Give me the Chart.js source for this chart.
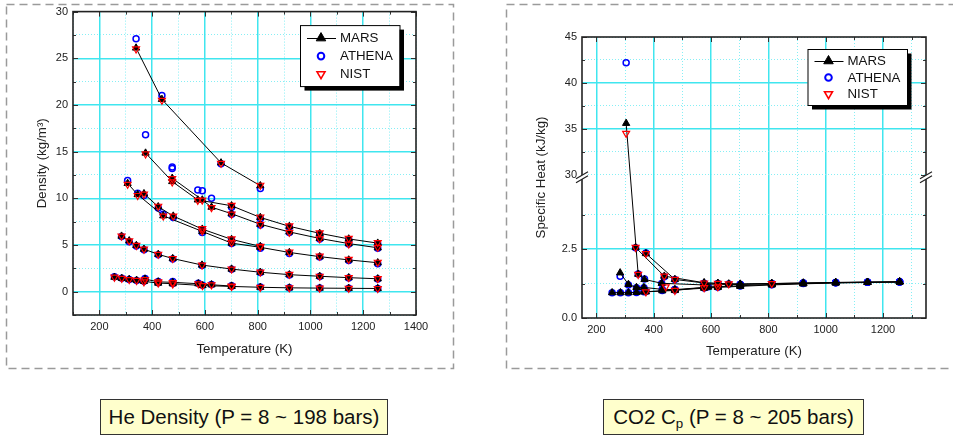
<!DOCTYPE html>
<html>
<head>
<meta charset="utf-8">
<script src="https://cdn.jsdelivr.net/npm/chart.js@4.4.0/dist/chart.umd.min.js"></script>
<style>
  body { margin: 0; background: #fff; width: 953px; height: 440px; overflow: hidden; position: relative;
         font-family: "Liberation Sans", Arial, sans-serif; }
  #heChart { position: absolute; left: 0; top: 0; }
  #co2Chart { position: absolute; left: 480px; top: 0; }
  .caption { position: absolute; top: 399px; height: 36px; box-sizing: border-box; border: 1px solid #333;
             background: #ffffcc; font-size: 20.5px; line-height: 34px; text-align: center; color: #111; }
  .caption sub { font-size: 0.65em; line-height: 0; vertical-align: -0.3em; }
</style>
</head>
<body>
<canvas id="heChart" width="480" height="380"></canvas>
<canvas id="co2Chart" width="473" height="380"></canvas>
<div class="caption" style="left:100px;width:288px">He Density (P = 8 ~ 198 bars)</div>
<div class="caption" style="left:603px;width:261px">CO2 C<sub>p</sub> (P = 8 ~ 205 bars)</div>

<script>
// ---- He density, one row per pressure line (temperature K, density kg/m3)
const heTemps = [
  [339, 437, 661, 810],
  [375, 476, 573, 701, 810, 920, 1035, 1145, 1255],
  [476, 590, 625, 701, 810, 920, 1035, 1145, 1255],
  [307, 345, 442, 590, 701, 810, 920, 1035, 1145, 1255],
  [369, 423, 480, 590, 701, 810],
  [284, 313, 340, 369, 423, 478, 589, 701, 810, 920, 1035, 1145, 1255],
  [257, 285, 313, 341, 369, 423, 478, 591, 701, 810, 920, 1035, 1145, 1255],
  [373, 423, 478, 575, 625, 701]
];
const heMars = [
  [26.1, 20.6, 13.8, 11.35],
  [14.85, 11.8, 9.83, 9.2, 7.95, 7.0, 6.25, 5.65, 5.2],
  [12.15, 9.83, 9.05, 8.35, 7.22, 6.4, 5.7, 5.15, 4.7],
  [11.6, 10.4, 8.13, 6.45, 5.2, 4.75, 4.2, 3.75, 3.4, 3.1],
  [10.5, 9.1, 8.1, 6.7, 5.6, 4.85],
  [5.95, 5.45, 4.95, 4.55, 4.0, 3.55, 2.85, 2.42, 2.08, 1.82, 1.65, 1.5, 1.38],
  [1.55, 1.42, 1.32, 1.22, 1.1, 0.92, 0.85, 0.66, 0.56, 0.47, 0.41, 0.38, 0.36, 0.34],
  [1.35, 1.05, 1.0, 0.85, 0.74, 0.6]
];
const heAthena = [
  [27.1, 21.0, 13.7, 11.05],
  [16.8, 13.2, 10.9, 9.05, 7.8, 6.9, 6.15, 5.6, 5.1],
  [13.35, 10.8, 10.0, 8.3, 7.15, 6.35, 5.65, 5.1, 4.65],
  [11.9, 10.55, 8.3, 6.35, 5.15, 4.65, 4.1, 3.7, 3.35, 3.0],
  [10.3, 8.95, 7.95, 6.6, 5.5, 4.8],
  [5.9, 5.35, 4.9, 4.5, 3.95, 3.5, 2.8, 2.4, 2.05, 1.78, 1.62, 1.46, 1.35],
  [1.6, 1.45, 1.3, 1.2, 1.12, 0.95, 0.88, 0.7, 0.58, 0.49, 0.42, 0.39, 0.37, 0.35],
  [1.4, 1.08, 1.1, 0.9, 0.76, 0.62]
];
const heNist = [
  [26.0, 20.5, 13.75, 11.4],
  [14.75, 11.75, 9.78, 9.25, 8.0, 7.05, 6.3, 5.7, 5.25],
  [12.1, 9.8, 9.0, 8.3, 7.2, 6.35, 5.65, 5.1, 4.75],
  [11.5, 10.3, 8.1, 6.5, 5.25, 4.8, 4.25, 3.8, 3.45, 3.15],
  [10.45, 9.15, 8.1, 6.75, 5.65, 4.85],
  [5.95, 5.45, 4.95, 4.55, 4.0, 3.55, 2.85, 2.42, 2.1, 1.85, 1.65, 1.5, 1.4],
  [1.55, 1.42, 1.3, 1.2, 1.05, 0.92, 0.82, 0.65, 0.55, 0.46, 0.41, 0.38, 0.36, 0.34],
  [1.3, 1.05, 0.98, 0.84, 0.73, 0.6]
];

// ---- CO2 specific heat (temperature K, cp kJ/kg-K)
const co2Temps = [
  [255, 284, 312, 340, 366, 430, 474, 576, 624, 702, 812, 922, 1035, 1146, 1258],
  [283, 312, 340, 366, 430, 474, 590, 702, 812, 922, 1035, 1146, 1258],
  [304, 346, 368, 428, 576, 624, 702, 812, 922, 1035, 1146, 1258],
  [337, 437, 576, 624, 662, 702, 812, 922, 1035, 1146, 1258],
  [373, 474, 576, 624, 702, 812],
  [373, 474, 576, 624]
];
const co2Mars = [
  [0.92, 0.92, 0.92, 0.93, 0.95, 0.99, 1.02, 1.08, 1.11, 1.15, 1.2, 1.24, 1.27, 1.29, 1.31],
  [1.64, 1.22, 1.11, 1.11, 1.04, 1.03, 1.12, 1.17, 1.22, 1.25, 1.28, 1.3, 1.31],
  [35.6, 1.59, 1.4, 1.26, 1.2, 1.21, 1.22, 1.25, 1.27, 1.29, 1.3, 1.31],
  [2.56, 1.52, 1.28, 1.26, 1.24, 1.23, 1.25, 1.27, 1.29, 1.3, 1.31],
  [2.34, 1.4, 1.27, 1.25, 1.23, 1.25],
  [0.95, 1.0, 1.11, 1.14]
];
const co2Athena = [
  [0.92, 0.92, 0.92, 0.93, 0.95, 1.0, 1.03, 1.09, 1.12, 1.16, 1.21, 1.25, 1.28, 1.3, 1.32],
  [1.52, 1.2, 1.1, 1.1, 1.03, 1.03, 1.13, 1.18, 1.22, 1.26, 1.28, 1.3, 1.32],
  [42.2, 1.6, 1.42, 1.25, 1.18, 1.2, 1.22, 1.25, 1.27, 1.29, 1.3, 1.31],
  [2.55, 1.5, 1.26, 1.25, 1.23, 1.22, 1.25, 1.27, 1.29, 1.3, 1.31],
  [2.36, 1.4, 1.25, 1.24, 1.22, 1.24],
  [0.96, 1.02, 1.12, 1.14]
];
const co2NistTemps = [304, 337, 346, 373, 437, 442, 474, 576, 624, 662, 812, 373, 474, 576, 624];
const co2Nist = [34.5, 2.56, 1.58, 2.34, 1.52, 1.13, 1.4, 1.27, 1.26, 1.24, 1.25, 0.95, 1.0, 1.1, 1.13];

// ---- axes
const heXTicks = [100, 200, 300, 400, 500, 600, 700, 800, 900, 1000, 1100, 1200, 1300, 1400];
const heXLabels = [200, 400, 600, 800, 1000, 1200, 1400];
const heXGrid = [200, 400, 600, 800, 1000, 1200];
const heYTicks = [-2.5, 0, 2.5, 5, 7.5, 10, 12.5, 15, 17.5, 20, 22.5, 25, 27.5, 30];
const heYLabels = [0, 5, 10, 15, 20, 25, 30];
const heYGrid = [0, 5, 10, 15, 20, 25];

const co2XTicks = [200, 300, 400, 500, 600, 700, 800, 900, 1000, 1100, 1200, 1300];
const co2XLabels = [200, 400, 600, 800, 1000, 1200];
const co2XGrid = [200, 400, 600, 800, 1000, 1200];
const co2YTicks = [0, 1.25, 2.5, 3.75, 30, 32.5, 35, 37.5, 40, 42.5, 45];
const co2YLabels = [0, 2.5, 30, 35, 40, 45];
const co2YGrid = [2.5, 35, 40];

// y axis with a break between brkLo and brkHi, upper part compressed by brkK
const brkLo = 5.2, brkHi = 30, brkK = 3;
const squash = v => v <= brkLo ? v : (v >= brkHi ? brkLo + (v - brkHi) / brkK : brkLo);
const unsquash = u => u <= brkLo ? u : brkHi + (u - brkLo) * brkK;

class BrokenLinear extends Chart.LinearScale {
  configure() {
    super.configure();
    this._startValue = squash(this.min);
    this._endValue = squash(this.max);
    this._valueRange = this._endValue - this._startValue;
  }
  getPixelForValue(v) {
    if (v === null || v === undefined) return NaN;
    return this.getPixelForDecimal((squash(v) - this._startValue) / this._valueRange);
  }
  getValueForPixel(p) {
    return unsquash(this._startValue + this.getDecimalForPixel(p) * this._valueRange);
  }
}
BrokenLinear.id = 'brokenLinear';
BrokenLinear.defaults = Chart.LinearScale.defaults;
Chart.register(BrokenLinear);

Chart.defaults.font.family = '"Liberation Sans", Arial, sans-serif';
Chart.defaults.color = '#222';

const MAJOR = '#40e6ef';
const MINOR = '#86eff5';
const NONE = 'rgba(0,0,0,0)';

const marsStyle = { pointStyle: 'triangle', radius: 4.2, rotation: 0, color: '#000', fill: true, width: 1 };
const athenaStyle = { pointStyle: 'circle', radius: 3, rotation: 0, color: '#0000ff', fill: false, width: 1.5 };
const nistStyle = { pointStyle: 'triangle', radius: 4, rotation: 180, color: '#ff0000', fill: false, width: 1.2 };

const legendRows = [
  { label: 'MARS', line: true, st: { ...marsStyle, radius: 5.5 } },
  { label: 'ATHENA', line: false, st: { ...athenaStyle, radius: 3.3, width: 2 } },
  { label: 'NIST', line: false, st: { ...nistStyle, radius: 4.6, width: 1.6 } }
];

function pointProps(st) {
  return {
    pointStyle: st.pointStyle, pointRadius: st.radius, pointHoverRadius: st.radius,
    pointRotation: st.rotation, pointBorderColor: st.color, pointBorderWidth: st.width,
    pointBackgroundColor: st.fill ? st.color : NONE
  };
}

function markerSet(label, temps, vals, st) {
  const data = [];
  temps.forEach((row, i) => row.forEach((t, j) => data.push({ x: t, y: vals[i][j] })));
  return { label, data, showLine: false, ...pointProps(st) };
}

function marsLines(temps, vals) {
  return temps.map((row, i) => ({
    label: 'MARS',
    data: row.map((t, j) => ({ x: t, y: vals[i][j] })),
    showLine: true, borderColor: '#000', borderWidth: 1, tension: 0,
    ...pointProps(marsStyle)
  }));
}

function gridColor(c, list) {
  if (!c.tick) return NONE;
  return list.includes(c.tick.value) ? MAJOR : MINOR;
}
function gridWidth(c, list) {
  return c.tick && list.includes(c.tick.value) ? 1.5 : 1;
}
function gridDash(c, list) {
  return c.tick && !list.includes(c.tick.value) ? [1, 2] : [];
}

function drawMark(ctx, st, x, y) {
  ctx.save();
  ctx.strokeStyle = st.color;
  ctx.fillStyle = st.fill ? st.color : NONE;
  ctx.lineWidth = st.width;
  if (Chart.helpers && Chart.helpers.drawPoint) {
    Chart.helpers.drawPoint(ctx, { pointStyle: st.pointStyle, radius: st.radius, rotation: st.rotation, borderWidth: st.width }, x, y);
  } else {
    ctx.beginPath();
    ctx.arc(x, y, st.radius, 0, Math.PI * 2);
    if (st.fill) ctx.fill();
    ctx.stroke();
  }
  ctx.restore();
}

const decor = {
  id: 'decor',
  beforeDraw(chart, args, o) {
    const ctx = chart.ctx;
    ctx.save();
    ctx.setLineDash([8, 5]);
    ctx.strokeStyle = '#9a9a9a';
    ctx.lineWidth = 1.5;
    ctx.strokeRect(o.box.x, o.box.y, o.box.w, o.box.h);
    ctx.restore();
  },
  afterDraw(chart, args, o) {
    const ctx = chart.ctx;
    const a = chart.chartArea;
    const xs = chart.scales.x, ys = chart.scales.y;
    ctx.save();
    // inward tick marks on all four sides
    ctx.strokeStyle = '#333';
    ctx.lineWidth = 1;
    ctx.beginPath();
    xs.ticks.forEach(t => {
      const px = Math.round(xs.getPixelForValue(t.value)) + 0.5;
      const len = o.xLabels.includes(t.value) ? 5 : 3;
      ctx.moveTo(px, a.bottom); ctx.lineTo(px, a.bottom - len);
      ctx.moveTo(px, a.top); ctx.lineTo(px, a.top + len);
    });
    ys.ticks.forEach(t => {
      const py = Math.round(ys.getPixelForValue(t.value)) + 0.5;
      const len = o.yLabels.includes(t.value) ? 5 : 3;
      ctx.moveTo(a.left, py); ctx.lineTo(a.left + len, py);
      ctx.moveTo(a.right, py); ctx.lineTo(a.right - len, py);
    });
    ctx.stroke();
    // frame
    ctx.strokeStyle = '#222';
    ctx.lineWidth = 1.6;
    ctx.strokeRect(a.left, a.top, a.right - a.left, a.bottom - a.top);
    // axis break marks
    if (o.breakAt) {
      const y0 = ys.getPixelForValue(o.breakAt) + 2;
      [a.left, a.right].forEach(x => {
        ctx.fillStyle = '#fff';
        ctx.beginPath();
        ctx.moveTo(x - 6, y0 + 2); ctx.lineTo(x + 6, y0 - 5);
        ctx.lineTo(x + 6, y0 - 1); ctx.lineTo(x - 6, y0 + 6);
        ctx.closePath(); ctx.fill();
        ctx.strokeStyle = '#222';
        ctx.lineWidth = 1.2;
        ctx.beginPath();
        ctx.moveTo(x - 6, y0 + 2); ctx.lineTo(x + 6, y0 - 5);
        ctx.moveTo(x - 6, y0 + 6); ctx.lineTo(x + 6, y0 - 1);
        ctx.stroke();
      });
    }
    // legend box with drop shadow
    const L = o.legend;
    const bx = a.right - L.right - L.w, by = a.top + L.top;
    ctx.fillStyle = '#000';
    ctx.fillRect(bx + 4.5, by + 4.5, L.w, L.h);
    ctx.fillStyle = '#fff';
    ctx.fillRect(bx, by, L.w, L.h);
    ctx.strokeStyle = '#000';
    ctx.lineWidth = 1;
    ctx.strokeRect(bx + 0.5, by + 0.5, L.w, L.h);
    ctx.font = '13.3px "Liberation Sans", Arial, sans-serif';
    ctx.textBaseline = 'middle';
    legendRows.forEach((r, i) => {
      const ry = by + L.first + i * L.gap;
      if (r.line) {
        ctx.strokeStyle = '#000';
        ctx.lineWidth = 1;
        ctx.beginPath();
        ctx.moveTo(bx + 7, Math.round(ry) + 0.5);
        ctx.lineTo(bx + 36, Math.round(ry) + 0.5);
        ctx.stroke();
      }
      drawMark(ctx, r.st, bx + 21, ry);
      ctx.fillStyle = '#111';
      ctx.fillText(r.label, bx + 40, ry + 0.5);
    });
    ctx.restore();
  }
};

function axis(cfg) {
  return {
    type: cfg.type || 'linear',
    min: cfg.min, max: cfg.max,
    afterBuildTicks: s => { s.ticks = cfg.ticks.map(v => ({ value: v })); },
    afterFit: s => { if (cfg.width) s.width = cfg.width; if (cfg.height) s.height = cfg.height; },
    ticks: {
      autoSkip: false, maxRotation: 0, padding: 5, color: '#222', font: { size: 11 },
      callback: v => cfg.labels.includes(v) ? cfg.fmt(v) : ''
    },
    grid: {
      drawTicks: false,
      color: c => gridColor(c, cfg.grid),
      lineWidth: c => gridWidth(c, cfg.grid)
    },
    border: { display: false, dash: c => gridDash(c, cfg.grid) },
    title: { display: true, text: cfg.title, color: '#222', font: { size: 13.3 }, padding: cfg.titlePad }
  };
}

// drawing order: first dataset ends up on top
new Chart(document.getElementById('heChart'), {
  type: 'scatter',
  data: {
    datasets: [
      markerSet('NIST', heTemps, heNist, nistStyle),
      ...marsLines(heTemps, heMars),
      markerSet('ATHENA', heTemps, heAthena, athenaStyle)
    ]
  },
  options: {
    responsive: false, animation: false, events: [],
    layout: { padding: { left: 0, top: 8, right: 64, bottom: 0 } },
    plugins: {
      legend: { display: false }, tooltip: { enabled: false },
      decor: {
        box: { x: 6.5, y: 4.5, w: 447, h: 364 },
        xLabels: heXLabels, yLabels: heYLabels,
        legend: { right: 16.5, top: 13.5, w: 99.5, h: 61, first: 13, gap: 18 }
      }
    },
    scales: {
      x: axis({ min: 100, max: 1400, ticks: heXTicks, labels: heXLabels, grid: heXGrid, fmt: v => String(v),
                height: 65, title: 'Temperature (K)', titlePad: { top: 0, bottom: 23 } }),
      y: axis({ min: -2.5, max: 30, ticks: heYTicks, labels: heYLabels, grid: heYGrid, fmt: v => String(v),
                width: 73, title: 'Density (kg/m\u00B3)', titlePad: { top: 34, bottom: 0 } })
    }
  },
  plugins: [decor]
});

new Chart(document.getElementById('co2Chart'), {
  type: 'scatter',
  data: {
    datasets: [
      { label: 'NIST', data: co2NistTemps.map((t, i) => ({ x: t, y: co2Nist[i] })), showLine: false, ...pointProps(nistStyle) },
      ...marsLines(co2Temps, co2Mars),
      markerSet('ATHENA', co2Temps, co2Athena, athenaStyle)
    ]
  },
  options: {
    responsive: false, animation: false, events: [],
    layout: { padding: { left: 0, top: 37, right: 27, bottom: 0 } },
    plugins: {
      legend: { display: false }, tooltip: { enabled: false },
      decor: {
        box: { x: 26.5, y: 4.5, w: 520, h: 364 },
        xLabels: co2XLabels, yLabels: co2YLabels, breakAt: brkHi,
        legend: { right: 19, top: 12, w: 99.5, h: 56, first: 12, gap: 16.5 }
      }
    },
    scales: {
      x: axis({ min: 150, max: 1350, ticks: co2XTicks, labels: co2XLabels, grid: co2XGrid, fmt: v => String(v),
                height: 62, title: 'Temperature (K)', titlePad: { top: 0, bottom: 21 } }),
      y: axis({ type: 'brokenLinear', min: 0, max: 45, ticks: co2YTicks, labels: co2YLabels, grid: co2YGrid,
                fmt: v => v < brkLo ? v.toFixed(1) : String(v),
                width: 102, title: 'Specific Heat (kJ/kg)', titlePad: { top: 53, bottom: 0 } })
    }
  },
  plugins: [decor]
});
</script>
</body>
</html>
